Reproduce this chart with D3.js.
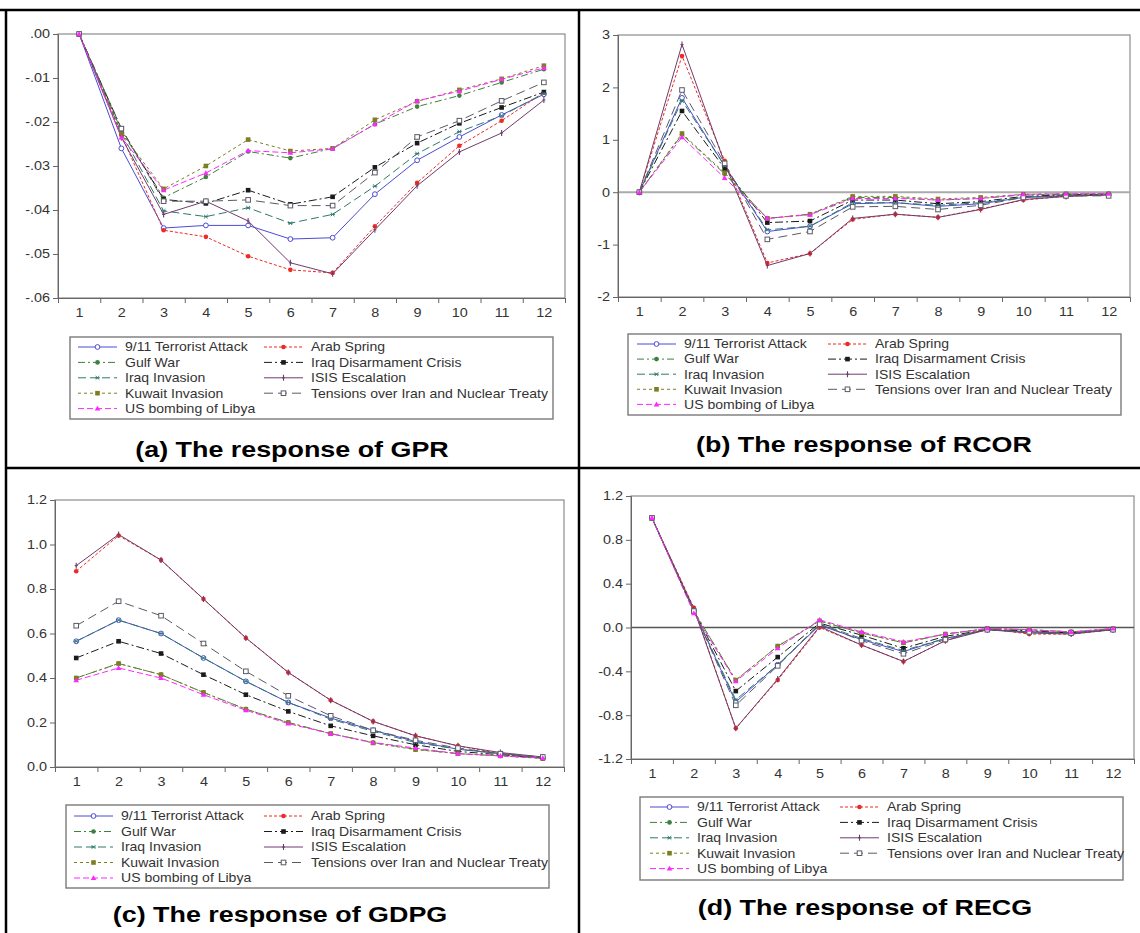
<!DOCTYPE html>
<html><head><meta charset="utf-8">
<script src="https://cdn.jsdelivr.net/npm/d3@7"></script>
<style>
body{margin:0;background:#fff}
svg{display:block}
text{font-family:"Liberation Sans",Arial,sans-serif}
</style>
</head><body>
<svg id="chart" width="1140" height="933"></svg>
<script>
// ---------------- DATA ----------------
const periods = [1,2,3,4,5,6,7,8,9,10,11,12];
const seriesNames = ["9/11 Terrorist Attack","Arab Spring","Gulf War","Iraq Disarmament Crisis","Iraq Invasion","ISIS Escalation","Kuwait Invasion","Tensions over Iran and Nuclear Treaty","US bombing of Libya"];

const gprTicks  = [0,-0.01,-0.02,-0.03,-0.04,-0.05,-0.06];
const rcorTicks = [3,2,1,0,-1,-2];
const gdpgTicks = [1.2,1.0,0.8,0.6,0.4,0.2,0.0];
const recgTicks = [1.2,0.8,0.4,0.0,-0.4,-0.8,-1.2];

// series order follows seriesNames
const gprValues = [
 [0,-0.026,-0.0441,-0.0435,-0.0435,-0.0466,-0.0463,-0.0364,-0.0287,-0.0234,-0.0184,-0.0137],
 [0,-0.023,-0.0446,-0.0461,-0.0505,-0.0536,-0.0543,-0.0437,-0.0338,-0.0254,-0.0197,-0.0133],
 [0,-0.022,-0.0372,-0.0325,-0.0267,-0.0282,-0.0260,-0.0205,-0.0165,-0.0140,-0.0110,-0.0080],
 [0,-0.0215,-0.0376,-0.0385,-0.0355,-0.0387,-0.0370,-0.0303,-0.0248,-0.0203,-0.0167,-0.0132],
 [0,-0.0225,-0.0402,-0.0415,-0.0395,-0.0430,-0.0410,-0.0346,-0.0272,-0.0222,-0.0186,-0.0135],
 [0,-0.0235,-0.0410,-0.0380,-0.0425,-0.0520,-0.0545,-0.0445,-0.0345,-0.0268,-0.0225,-0.0150],
 [0,-0.0225,-0.0352,-0.0300,-0.0240,-0.0266,-0.0260,-0.0195,-0.0153,-0.0127,-0.0102,-0.0072],
 [0,-0.0215,-0.0380,-0.0380,-0.0377,-0.0390,-0.0390,-0.0315,-0.0234,-0.0197,-0.0152,-0.0110],
 [0,-0.0235,-0.0355,-0.0316,-0.0265,-0.0270,-0.0261,-0.0205,-0.0152,-0.0130,-0.0103,-0.0077]
];
const rcorValues = [
 [0,1.80,0.50,-0.75,-0.65,-0.22,-0.20,-0.27,-0.22,-0.10,-0.07,-0.05],
 [0,2.60,0.60,-1.35,-1.17,-0.52,-0.42,-0.48,-0.32,-0.15,-0.08,-0.05],
 [0,1.10,0.35,-0.50,-0.42,-0.10,-0.10,-0.15,-0.12,-0.05,-0.04,-0.03],
 [0,1.55,0.45,-0.58,-0.55,-0.15,-0.15,-0.22,-0.18,-0.08,-0.05,-0.04],
 [0,1.75,0.50,-0.72,-0.65,-0.20,-0.20,-0.25,-0.20,-0.10,-0.06,-0.05],
 [0,2.82,0.55,-1.40,-1.17,-0.50,-0.42,-0.48,-0.33,-0.14,-0.08,-0.05],
 [0,1.12,0.37,-0.50,-0.42,-0.08,-0.08,-0.13,-0.10,-0.04,-0.03,-0.03],
 [0,1.95,0.55,-0.90,-0.75,-0.28,-0.27,-0.33,-0.25,-0.10,-0.07,-0.07],
 [0,1.05,0.27,-0.50,-0.43,-0.12,-0.12,-0.15,-0.12,-0.04,-0.03,-0.03]
];
const gdpgValues = [
 [0.565,0.66,0.60,0.49,0.385,0.29,0.22,0.165,0.115,0.08,0.06,0.04],
 [0.88,1.04,0.93,0.755,0.58,0.425,0.30,0.205,0.14,0.095,0.06,0.04],
 [0.40,0.465,0.415,0.335,0.26,0.20,0.15,0.11,0.08,0.06,0.05,0.04],
 [0.49,0.565,0.51,0.415,0.325,0.25,0.185,0.14,0.10,0.07,0.055,0.04],
 [0.565,0.66,0.60,0.49,0.385,0.29,0.215,0.16,0.11,0.08,0.06,0.04],
 [0.905,1.045,0.93,0.755,0.58,0.425,0.30,0.205,0.14,0.095,0.065,0.045],
 [0.40,0.465,0.415,0.335,0.26,0.20,0.15,0.108,0.078,0.06,0.05,0.038],
 [0.635,0.745,0.68,0.555,0.43,0.32,0.23,0.165,0.12,0.085,0.06,0.045],
 [0.39,0.445,0.40,0.325,0.255,0.195,0.15,0.11,0.085,0.06,0.05,0.04]
];
const recgValues = [
 [1.0,0.15,-0.68,-0.34,0.02,-0.11,-0.22,-0.10,-0.02,-0.04,-0.05,-0.02],
 [1.0,0.18,-0.92,-0.48,0.00,-0.16,-0.31,-0.12,-0.01,-0.06,-0.06,-0.02],
 [1.0,0.15,-0.48,-0.17,0.06,-0.05,-0.14,-0.06,-0.01,-0.02,-0.04,-0.01],
 [1.0,0.15,-0.58,-0.27,0.04,-0.07,-0.19,-0.08,-0.02,-0.03,-0.05,-0.02],
 [1.0,0.15,-0.66,-0.34,0.03,-0.10,-0.21,-0.10,-0.02,-0.04,-0.05,-0.02],
 [1.0,0.17,-0.92,-0.47,0.01,-0.16,-0.31,-0.12,-0.02,-0.05,-0.06,-0.02],
 [1.0,0.15,-0.48,-0.17,0.06,-0.05,-0.14,-0.06,-0.01,-0.02,-0.04,-0.01],
 [1.0,0.15,-0.71,-0.35,0.03,-0.12,-0.24,-0.11,-0.02,-0.04,-0.05,-0.02],
 [1.0,0.13,-0.49,-0.19,0.07,-0.04,-0.13,-0.06,-0.01,-0.02,-0.04,-0.01]
];
const panelTitles = ["(a) The response of GPR","(b) The response of RCOR","(c) The response of GDPG","(d) The response of RECG"];

// ---------------- STYLES ----------------
const seriesColors = ["#4b4bd6","#ee2a24","#3f7f3f","#1a1a1a","#2e7a6c","#6e3c6e","#7d7d22","#5a5a66","#ff26ff"];
const seriesDash   = [null,"3,2","7,3,2,3","8,3,2,3","8,4",null,"3,3","9,5","6,3"];
const seriesMarker = ["ocircle","circle","circle","square","star","plus","square","osquare","triangle"];
const legendOrder  = [[0,2,4,6,8],[1,3,5,7]];
const SX_AXIS = 1.2, SX_LEG = 1.17, SX_TITLE = 1.25;

const svg = d3.select("#chart");

// frame lines
const frame = svg.append("g").attr("stroke","#000").attr("stroke-width",2.5);
frame.append("line").attr("x1",0).attr("x2",1140).attr("y1",10).attr("y2",10);
frame.append("line").attr("x1",6).attr("x2",6).attr("y1",10).attr("y2",933);
frame.append("line").attr("x1",579).attr("x2",579).attr("y1",10).attr("y2",933);
frame.append("line").attr("x1",6).attr("x2",1140).attr("y1",468).attr("y2",468);

function marker(g, type, x, y, color){
  const s = 2.4;
  if(type==="ocircle") g.append("circle").attr("cx",x).attr("cy",y).attr("r",2.4).attr("fill","#fff").attr("stroke",color).attr("stroke-width",1);
  else if(type==="circle") g.append("circle").attr("cx",x).attr("cy",y).attr("r",2.3).attr("fill",color);
  else if(type==="square") g.append("rect").attr("x",x-2.3).attr("y",y-2.3).attr("width",4.6).attr("height",4.6).attr("fill",color);
  else if(type==="osquare") g.append("rect").attr("x",x-2.3).attr("y",y-2.3).attr("width",4.6).attr("height",4.6).attr("fill","#fff").attr("stroke",color).attr("stroke-width",1);
  else if(type==="triangle") g.append("path").attr("d",`M${x},${y-2.8}L${x+2.8},${y+2}L${x-2.8},${y+2}Z`).attr("fill",color);
  else if(type==="star") g.append("path").attr("d",`M${x-s},${y}H${x+s}M${x-s*0.75},${y-s*0.75}L${x+s*0.75},${y+s*0.75}M${x-s*0.75},${y+s*0.75}L${x+s*0.75},${y-s*0.75}`).attr("stroke",color).attr("stroke-width",1).attr("fill","none");
  else if(type==="plus") g.append("path").attr("d",`M${x},${y-3}V${y+3}M${x-1.5},${y}H${x+1.5}`).attr("stroke",color).attr("stroke-width",1.1).attr("fill","none");
}

function stext(g, x, y, s, opts){
  opts = opts||{};
  return g.append("text")
    .attr("transform",`translate(${x},${y}) scale(${opts.sx||SX_LEG},1)`)
    .attr("text-anchor",opts.anchor||"start")
    .attr("font-size",opts.size||12)
    .attr("font-weight",opts.weight||"normal")
    .attr("fill",opts.fill||"#333")
    .text(s);
}

const fmtGPR = d => d.toFixed(2).replace("0.",".");
const fmtInt = d => String(d);
const fmt1 = d => d.toFixed(1);

const panels = [
 {values:gprValues, ticks:gprTicks, fmt:fmtGPR, domain:[-0.06,0], plot:{l:58,r:565,t:34,b:298}, zero:null,
  legend:{x0:70,y0:337,x1:553,y1:419,c1:78,c2:264,row0:347,dy:15.4}, title:{x:292,y:457}},
 {values:rcorValues, ticks:rcorTicks, fmt:fmtInt, domain:[-2,3], plot:{l:618,r:1130,t:35,b:297}, zero:"#aaaaaa",
  legend:{x0:628,y0:334,x1:1121,y1:415,c1:637,c2:828,row0:344,dy:15.1}, title:{x:864,y:452}},
 {values:gdpgValues, ticks:gdpgTicks, fmt:fmt1, domain:[0,1.2], plot:{l:55,r:564,t:500,b:767}, zero:null,
  legend:{x0:66,y0:805,x1:549,y1:888,c1:74,c2:264,row0:816,dy:15.5}, title:{x:280,y:922}},
 {values:recgValues, ticks:recgTicks, fmt:fmt1, domain:[-1.2,1.2], plot:{l:631,r:1134,t:496,b:759}, zero:"#555555",
  legend:{x0:640,y0:797,x1:1123,y1:880,c1:650,c2:840,row0:807,dy:15.4}, title:{x:865,y:915}}
];

panels.forEach((P,pi)=>{
  const g = svg.append("g");
  const p = P.plot;
  const x = d3.scaleLinear().domain([0.5,12.5]).range([p.l,p.r]);
  const y = d3.scaleLinear().domain(P.domain).range([p.b,p.t]);

  // plot frame
  g.append("rect").attr("x",p.l).attr("y",p.t).attr("width",p.r-p.l).attr("height",p.b-p.t)
    .attr("fill","none").attr("stroke","#8c8c8c").attr("stroke-width",1.2);

  // zero line
  if(P.zero){
    g.append("line").attr("x1",p.l).attr("x2",p.r).attr("y1",y(0)).attr("y2",y(0))
      .attr("stroke",P.zero).attr("stroke-width",P.zero==="#aaaaaa"?2:1.3);
  }

  // y axis
  const ya = g.append("g").attr("transform",`translate(${p.l},0)`)
    .call(d3.axisLeft(y).tickValues(P.ticks).tickFormat(P.fmt).tickSize(5).tickPadding(3));
  ya.select(".domain").attr("stroke","#666");
  ya.selectAll(".tick line").attr("stroke","#666");
  ya.selectAll("text").attr("font-size",12).attr("fill","#333")
    .attr("font-family","'Liberation Sans',Arial,sans-serif")
    .attr("x",-8/SX_AXIS).attr("transform",`scale(${SX_AXIS},1)`);

  // x axis: boundary ticks
  const xb = g.append("g").attr("transform",`translate(0,${p.b})`)
    .call(d3.axisBottom(x).tickValues(periods.map(d=>d-0.5).concat([12.5])).tickFormat("").tickSize(5));
  xb.select(".domain").attr("stroke","#666");
  xb.selectAll(".tick line").attr("stroke","#666");
  // x labels
  const xl = g.append("g").attr("transform",`translate(0,${p.b})`)
    .call(d3.axisBottom(x).tickValues(periods).tickFormat(d=>String(d)).tickSize(0).tickPadding(10));
  xl.select(".domain").remove();
  xl.selectAll("text").attr("font-size",12).attr("fill","#333")
    .attr("font-family","'Liberation Sans',Arial,sans-serif")
    .attr("transform",`scale(${SX_AXIS},1)`);

  // series
  const line = d3.line().x((d,i)=>x(periods[i])).y(d=>y(d));
  const sg = g.append("g");
  P.values.forEach((vals,si)=>{
    sg.append("path").attr("d",line(vals)).attr("fill","none")
      .attr("stroke",seriesColors[si]).attr("stroke-width",1)
      .attr("stroke-dasharray",seriesDash[si]);
  });
  P.values.forEach((vals,si)=>{
    vals.forEach((v,i)=>marker(sg,seriesMarker[si],x(periods[i]),y(v),seriesColors[si]));
  });

  // legend
  const L = P.legend;
  const lg = g.append("g");
  lg.append("rect").attr("x",L.x0).attr("y",L.y0).attr("width",L.x1-L.x0).attr("height",L.y1-L.y0)
    .attr("fill","#fff").attr("stroke","#7a7a7a").attr("stroke-width",1.4);
  legendOrder.forEach((col,ci)=>{
    const lx = ci===0?L.c1:L.c2;
    col.forEach((si,ri)=>{
      const ly = L.row0 + ri*L.dy;
      lg.append("line").attr("x1",lx).attr("x2",lx+39).attr("y1",ly).attr("y2",ly)
        .attr("stroke",seriesColors[si]).attr("stroke-width",1).attr("stroke-dasharray",seriesDash[si]);
      marker(lg,seriesMarker[si],lx+19.5,ly,seriesColors[si]);
      stext(lg,lx+47,ly+4.3,seriesNames[si],{size:12,sx:SX_LEG});
    });
  });

  // title
  stext(g,P.title.x,P.title.y,panelTitles[pi],{size:21.5,weight:"bold",anchor:"middle",fill:"#000",sx:SX_TITLE});
});
</script>
</body></html>
